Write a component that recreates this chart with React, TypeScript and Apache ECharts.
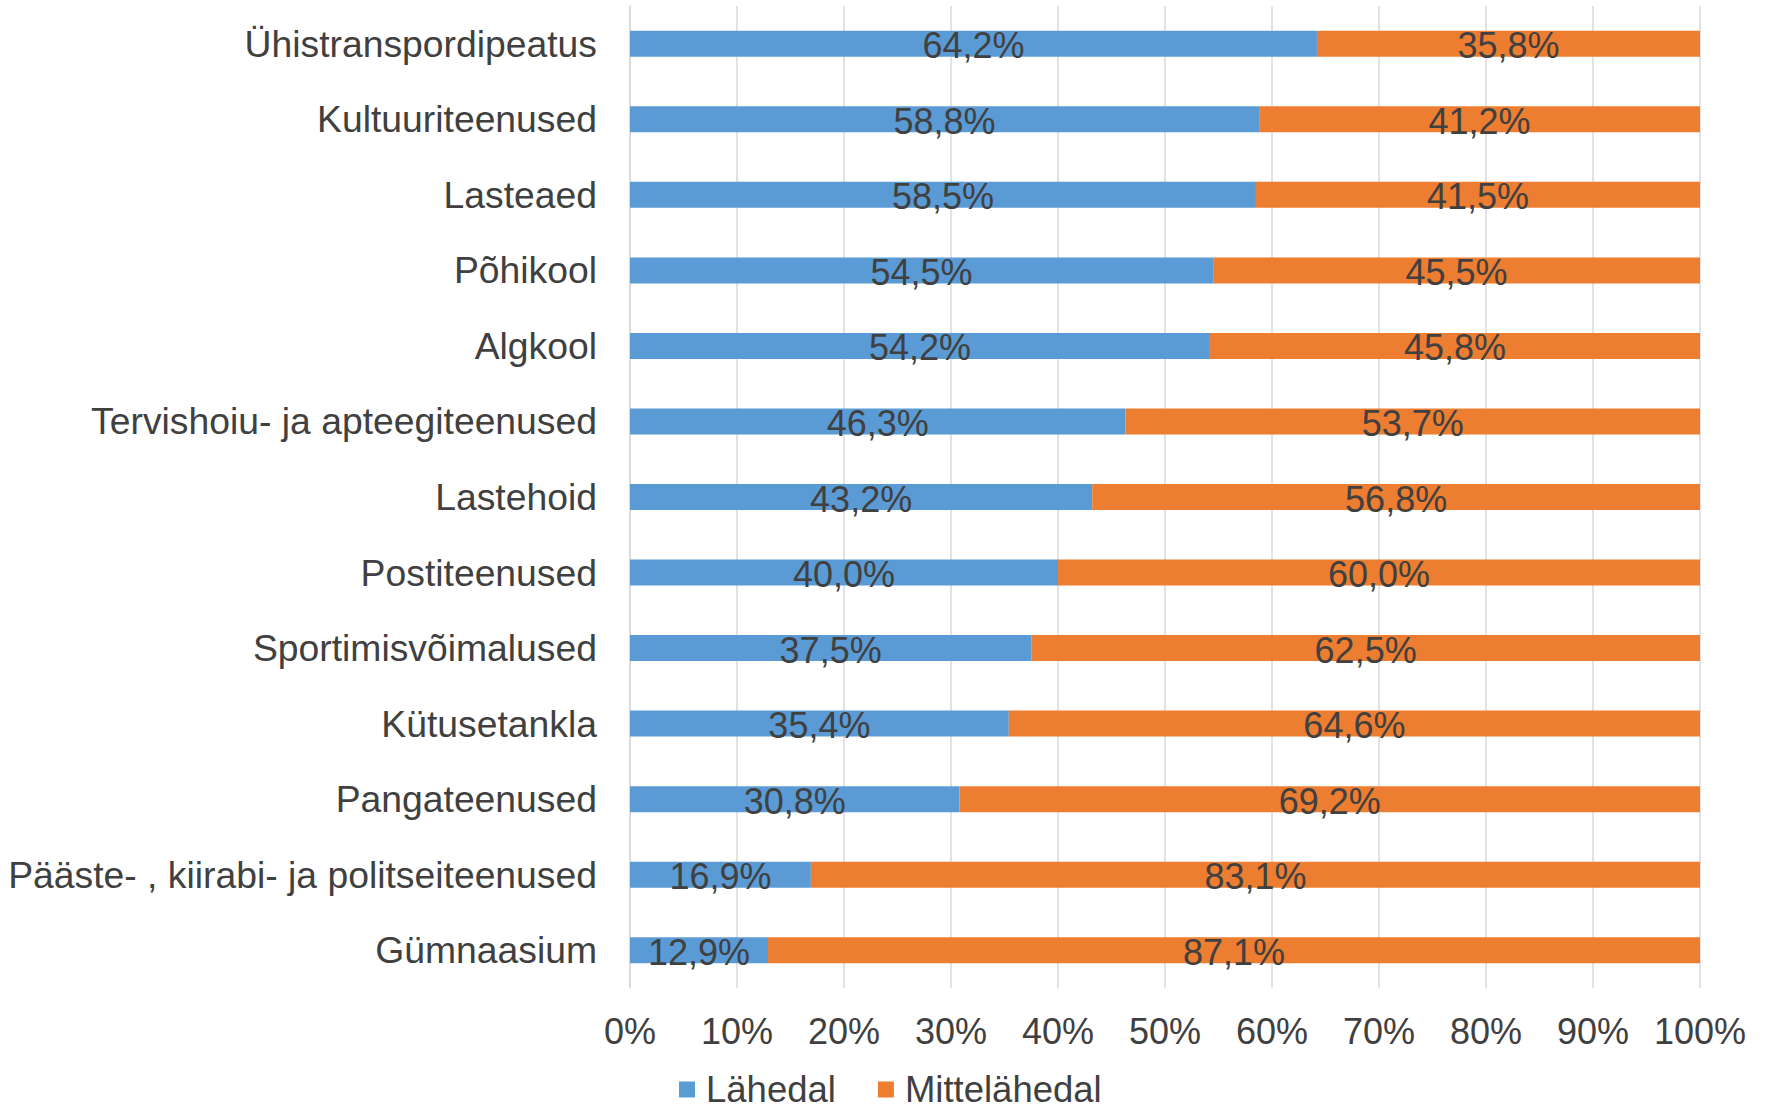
import React, { useEffect, useRef } from "react";
import * as echarts from "echarts";

const categories = [
  "Ühistranspordipeatus",
  "Kultuuriteenused",
  "Lasteaed",
  "Põhikool",
  "Algkool",
  "Tervishoiu- ja apteegiteenused",
  "Lastehoid",
  "Postiteenused",
  "Sportimisvõimalused",
  "Kütusetankla",
  "Pangateenused",
  "Pääste- , kiirabi- ja politseiteenused",
  "Gümnaasium",
];
const lahedal = [64.2, 58.8, 58.5, 54.5, 54.2, 46.3, 43.2, 40.0, 37.5, 35.4, 30.8, 16.9, 12.9];
const mittelahedal = [35.8, 41.2, 41.5, 45.5, 45.8, 53.7, 56.8, 60.0, 62.5, 64.6, 69.2, 83.1, 87.1];
const seriesNames = ["Lähedal", "Mittelähedal"];

const FONT = "'Liberation Sans', Arial, sans-serif";
const TEXT = "#404040";

export default function App() {
  const ref = useRef<HTMLDivElement>(null);
  useEffect(() => {
    if (!ref.current) return;
    document.body.style.overflow = "hidden";
    document.body.style.margin = "0";
    const chart = echarts.init(ref.current, null, { renderer: "svg" });
    const fmt = (p: any) => Number(p.value).toFixed(1).replace(".", ",") + "%";
    const label = {
      show: true,
      position: "inside",
      formatter: fmt,
      color: TEXT,
      fontSize: 36,
      fontFamily: FONT,
      offset: [0, 2],
    };
    chart.setOption({
      animation: false,
      backgroundColor: "#ffffff",
      textStyle: { fontFamily: FONT },
      grid: { left: 630, right: 65, top: 6, bottom: 123, containLabel: false },
      legend: {
        left: 679,
        top: 1071,
        padding: 0,
        itemWidth: 16,
        itemHeight: 16,
        itemGap: 42,
        icon: "rect",
        textStyle: {
          fontSize: 36.5,
          lineHeight: 36,
          color: TEXT,
          fontFamily: FONT,
          padding: [0, 0, 0, 6],
        },
        data: seriesNames,
      },
      xAxis: {
        type: "value",
        min: 0,
        max: 100,
        interval: 10,
        axisLabel: {
          formatter: "{value}%",
          fontSize: 36,
          color: TEXT,
          fontFamily: FONT,
          margin: 25,
        },
        axisLine: { show: false },
        axisTick: { show: false },
        splitLine: { show: true, lineStyle: { color: "#D9D9D9", width: 1.5 } },
      },
      yAxis: {
        type: "category",
        data: categories,
        inverse: true,
        axisLabel: {
          fontSize: 37.3,
          color: TEXT,
          fontFamily: FONT,
          margin: 33,
        },
        axisLine: { show: true, lineStyle: { color: "#D9D9D9", width: 1.5 } },
        axisTick: { show: false },
        splitLine: { show: false },
      },
      series: [
        {
          name: seriesNames[0],
          type: "bar",
          stack: "total",
          data: lahedal,
          barWidth: 26,
          itemStyle: { color: "#5B9BD5" },
          label,
        },
        {
          name: seriesNames[1],
          type: "bar",
          stack: "total",
          data: mittelahedal,
          barWidth: 26,
          itemStyle: { color: "#ED7D31" },
          label,
        },
      ],
    });
    return () => chart.dispose();
  }, []);
  return (
    <div
      ref={ref}
      style={{ position: "fixed", left: 0, top: 0, width: 1765, height: 1111 }}
    />
  );
}
